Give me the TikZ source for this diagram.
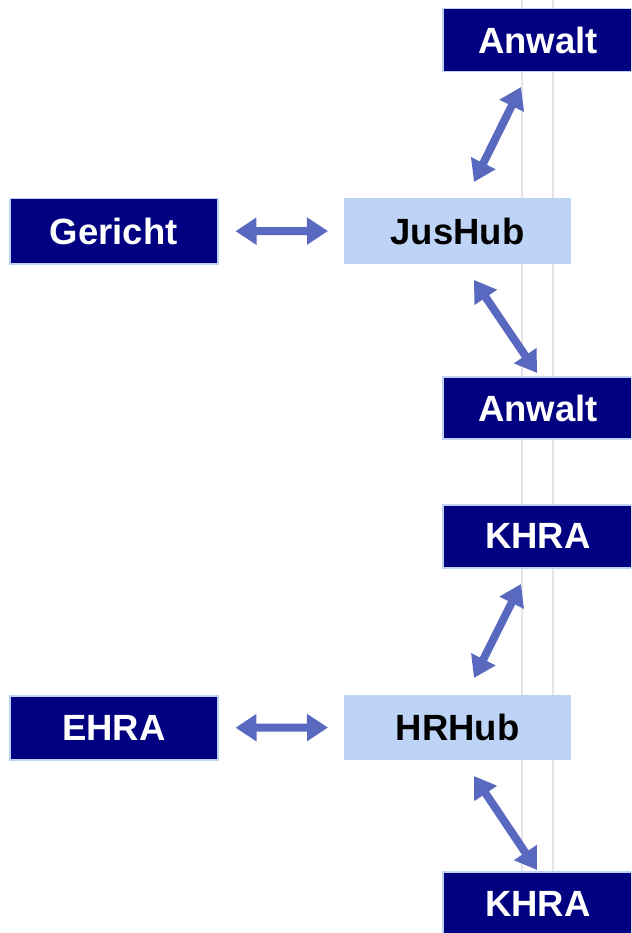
\documentclass[tikz,border=0pt]{standalone}
\usepackage{fontspec}
\setmainfont{Liberation Sans}
\usetikzlibrary{arrows.meta}
\definecolor{navy}{HTML}{000080}
\definecolor{edgeblue}{HTML}{BFD3F4}
\definecolor{hubfill}{HTML}{BED4F6}
\definecolor{arrowblue}{HTML}{5A69C0}
\definecolor{guide}{HTML}{E3E3E8}
\tikzset{
  labelfont/.style={font=\fontsize{36.5}{40}\selectfont\bfseries},
  party/.style={draw=edgeblue, line width=1.5pt, fill=navy, text=white,
    labelfont, inner sep=0pt},
  hub/.style={draw=hubfill, line width=1pt, fill=hubfill, text=black,
    labelfont, inner sep=0pt},
  partytext/.style={text=white, labelfont, inner sep=0pt},
  link/.style={draw=arrowblue, line width=8pt,
    {Triangle[width=26pt,length=21pt]}-{Triangle[width=26pt,length=21pt]}},
}
\begin{document}
\begin{tikzpicture}[x=1pt,y=-1pt]
  \useasboundingbox (0,0) rectangle (631,933);
  \clip (0,0) rectangle (631,933);
  \fill[white] (0,0) rectangle (631,933);
  % faint vertical guide lines
  \draw[guide, line width=1.5pt] (522,0) -- (522,933);
  \draw[guide, line width=1.5pt] (553,0) -- (553,933);

  % upper group
  \node[party, minimum width=220pt, minimum height=63pt, anchor=north west] (anw1) at (442,8) {};
  \node[partytext] (anw1t) at (538,40) {Anwalt};
  \node[party, minimum width=208pt, minimum height=65pt, anchor=north west] (ger) at (9,198) {Gericht};
  \node[hub, minimum width=226pt, minimum height=65pt, anchor=north west] (jus) at (344,198) {JusHub};
  \node[party, minimum width=220pt, minimum height=62pt, anchor=north west] (anw2) at (442,376) {};
  \node[partytext] (anw2t) at (538,408) {Anwalt};

  % lower group
  \node[party, minimum width=220pt, minimum height=63pt, anchor=north west] (khra1) at (442,504) {};
  \node[partytext] (khra1t) at (538,536) {KHRA};
  \node[party, minimum width=208pt, minimum height=64pt, anchor=north west] (ehra) at (9,695) {EHRA};
  \node[hub, minimum width=226pt, minimum height=64pt, anchor=north west] (hr) at (344,695) {HRHub};
  \node[party, minimum width=220pt, minimum height=70pt, anchor=north west] (khra2) at (442,871) {};
  \node[partytext] (khra2t) at (538,904) {KHRA};

  % arrow end points
  \coordinate (j1) at (474,182);
  \coordinate (a1) at (521,87);
  \coordinate (j2) at (474,280);
  \coordinate (a2) at (537,373);
  \coordinate (h1) at (474,678);
  \coordinate (k1) at (521,584);
  \coordinate (h2) at (474,776);
  \coordinate (k2) at (537,870);

  % connectors
  \draw[link, shorten <=17pt, shorten >=16pt] (ger.east) -- (jus.west);
  \draw[link] (j1) -- (a1);
  \draw[link] (j2) -- (a2);
  \draw[link, shorten <=17pt, shorten >=16pt] (ehra.east) -- (hr.west);
  \draw[link] (h1) -- (k1);
  \draw[link] (h2) -- (k2);
\end{tikzpicture}
\end{document}
